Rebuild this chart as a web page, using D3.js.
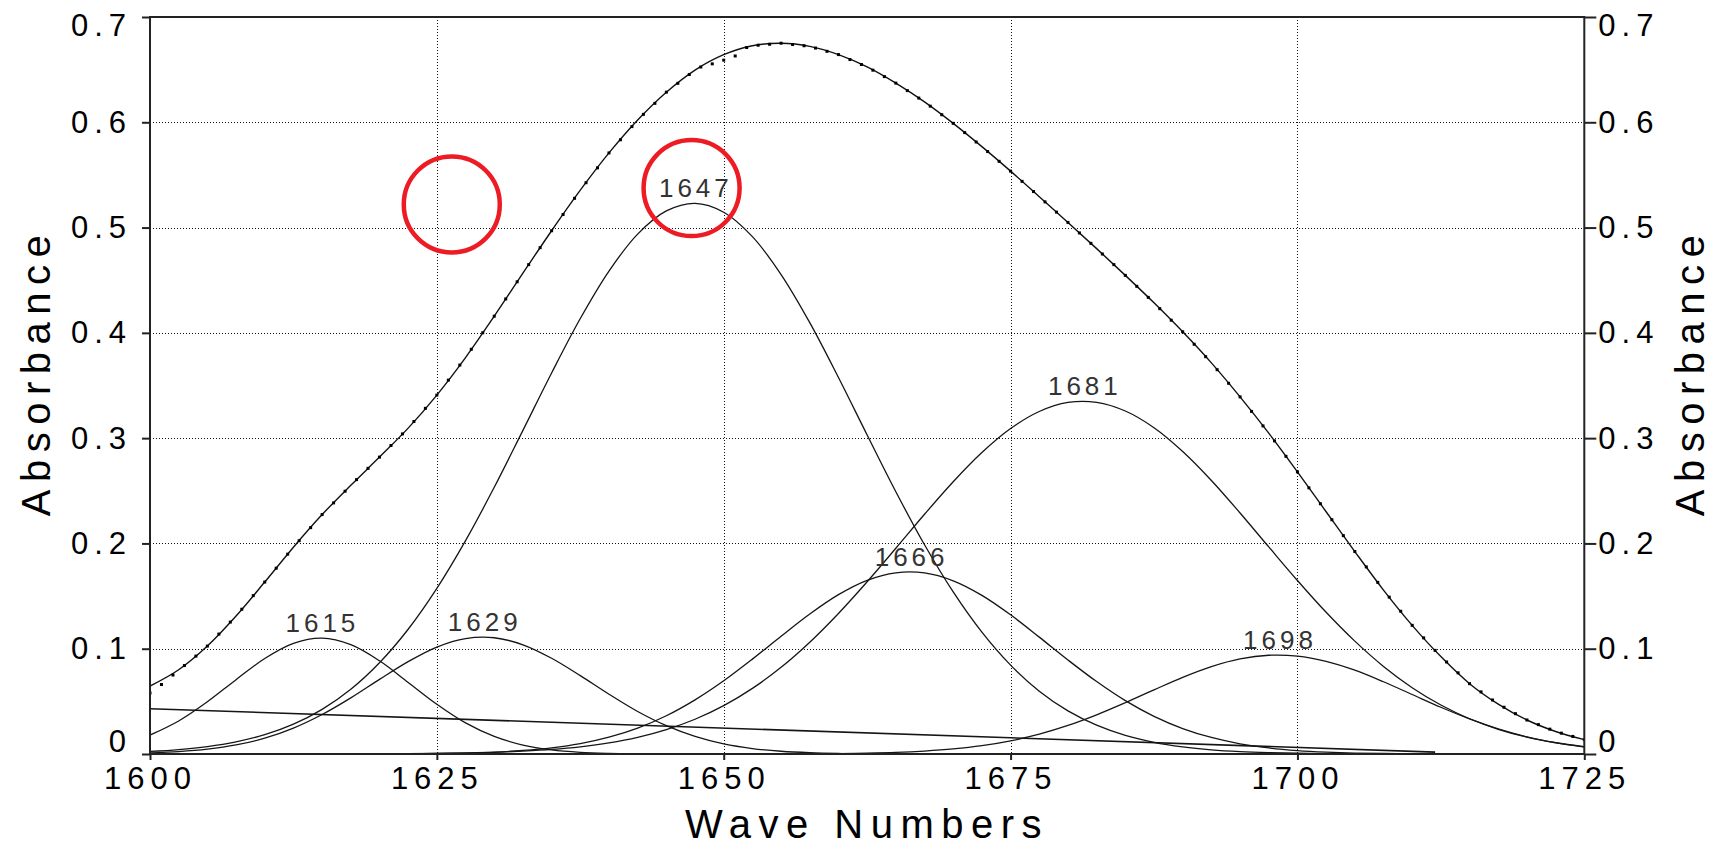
<!DOCTYPE html>
<html>
<head>
<meta charset="utf-8">
<script src="https://cdn.jsdelivr.net/npm/d3@7"></script>
<style>
  html, body { margin: 0; padding: 0; background: #ffffff; }
  svg { display: block; }
  text { font-family: "Liberation Sans", Arial, "DejaVu Sans", sans-serif; }
</style>
</head>
<body>
<svg id="chart" width="1715" height="845"></svg>
<script>
// ---------------- DATA ----------------
const xTicks = [1600, 1625, 1650, 1675, 1700, 1725];
const xTickLabels = ["1600", "1625", "1650", "1675", "1700", "1725"];
const yTicks = [0, 0.1, 0.2, 0.3, 0.4, 0.5, 0.6, 0.7];
const yTickLabels = ["0", "0.1", "0.2", "0.3", "0.4", "0.5", "0.6", "0.7"];

const xTitle = "Wave Numbers";
const yTitle = "Absorbance";

// sampling grid of the fitted curves (cm-1)
const gridWavenumbers = [1600,1602.5,1605,1607.5,1610,1612.5,1615,1617.5,1620,1622.5,
  1625,1627.5,1630,1632.5,1635,1637.5,1640,1642.5,1645,1647.5,
  1650,1652.5,1655,1657.5,1660,1662.5,1665,1667.5,1670,1672.5,
  1675,1677.5,1680,1682.5,1685,1687.5,1690,1692.5,1695,1697.5,
  1700,1702.5,1705,1707.5,1710,1712.5,1715,1717.5,1720,1722.5,1725];

// component bands
const band1615 = [0.0180,0.0314,0.0496,0.0706,0.0907,0.1051,0.1100,0.1038,0.0885,0.0680,
  0.0472,0.0295,0.0167,0.0085,0.0039,0.0016,0.0006,0.0002,0,0,
  0,0,0,0,0,0,0,0,0,0,
  0,0,0,0,0,0,0,0,0,0,
  0,0,0,0,0,0,0,0,0,0,0];
const band1629 = [0.0011,0.0023,0.0046,0.0086,0.0150,0.0246,0.0375,0.0533,0.0709,0.0878,
  0.1016,0.1096,0.1104,0.1037,0.0909,0.0744,0.0568,0.0404,0.0269,0.0167,
  0.0096,0.0052,0.0026,0.0012,0.0005,0.0002,0,0,0,0,
  0,0,0,0,0,0,0,0,0,0,
  0,0,0,0,0,0,0,0,0,0,0];
const band1647 = [0.0024,0.0042,0.0071,0.0116,0.0183,0.0283,0.0424,0.0615,0.0867,0.1185,
  0.1573,0.2026,0.2533,0.3074,0.3619,0.4136,0.4587,0.4938,0.5158,0.5230,
  0.5146,0.4914,0.4554,0.4097,0.3576,0.3030,0.2491,0.1987,0.1539,0.1157,
  0.0844,0.0597,0.0410,0.0274,0.0177,0.0111,0.0068,0.0040,0.0023,0.0013,
  0.0007,0.0004,0.0002,0,0,0,0,0,0,0,0];
const band1666 = [0,0,0,0,0,0,0,0,0.0001,0.0002,
  0.0005,0.0010,0.0018,0.0034,0.0059,0.0099,0.0160,0.0246,0.0363,0.0514,
  0.0695,0.0901,0.1119,0.1330,0.1514,0.1650,0.1721,0.1720,0.1645,0.1507,
  0.1322,0.1110,0.0893,0.0688,0.0507,0.0358,0.0242,0.0157,0.0097,0.0058,
  0.0033,0.0018,0.0009,0.0005,0.0002,0,0,0,0,0,0];
const band1681 = [0,0,0,0,0,0,0,0,0.0002,0.0003,
  0.0005,0.0009,0.0016,0.0027,0.0043,0.0068,0.0105,0.0158,0.0232,0.0330,
  0.0459,0.0623,0.0823,0.1062,0.1335,0.1636,0.1954,0.2277,0.2586,0.2863,
  0.3091,0.3253,0.3339,0.3340,0.3258,0.3099,0.2873,0.2598,0.2289,0.1967,
  0.1648,0.1346,0.1072,0.0832,0.0630,0.0465,0.0335,0.0235,0.0160,0.0107,0.0070];
const band1698 = [0,0,0,0,0,0,0,0,0,0,
  0,0,0,0,0,0,0,0,0,0,
  0,0,0.0001,0.0002,0.0004,0.0008,0.0015,0.0028,0.0048,0.0079,
  0.0125,0.0188,0.0271,0.0372,0.0487,0.0609,0.0728,0.0830,0.0903,0.0938,
  0.0930,0.0880,0.0796,0.0686,0.0565,0.0444,0.0333,0.0239,0.0163,0.0107,0.0066];

// total fitted envelope
const fitTotal = [0.0645,0.0800,0.1025,0.1310,0.1633,0.1964,0.2274,0.2552,0.2820,0.3095,
  0.3409,0.3765,0.4158,0.4567,0.4970,0.5355,0.5709,0.6022,0.6286,0.6496,
  0.6642,0.6727,0.6751,0.6721,0.6643,0.6526,0.6372,0.6194,0.5990,0.5769,
  0.5536,0.5293,0.5049,0.4800,0.4546,0.4285,0.4010,0.3715,0.3392,0.3047,
  0.2680,0.2301,0.1923,0.1557,0.1222,0.0925,0.0668,0.0474,0.0323,0.0214,0.0136];

// linear baseline
const baselineWavenumbers = [1600, 1712];
const baselineAbsorbance = [0.043, 0.0018];

// measured spectrum (dots)
const obsWavenumbers = [1600,1601,1602,1603,1604,1605,1606,1607,1608,1609,
  1610,1611,1612,1613,1614,1615,1616,1617,1618,1619,
  1620,1621,1622,1623,1624,1625,1626,1627,1628,1629,
  1630,1631,1632,1633,1634,1635,1636,1637,1638,1639,
  1640,1641,1642,1643,1644,1645,1646,1647,1648,1649,
  1650,1651,1652,1653,1654,1655,1656,1657,1658,1659,
  1660,1661,1662,1663,1664,1665,1666,1667,1668,1669,
  1670,1671,1672,1673,1674,1675,1676,1677,1678,1679,
  1680,1681,1682,1683,1684,1685,1686,1687,1688,1689,
  1690,1691,1692,1693,1694,1695,1696,1697,1698,1699,
  1700,1701,1702,1703,1704,1705,1706,1707,1708,1709,
  1710,1711,1712,1713,1714,1715,1716,1717,1718,1719,
  1720,1721,1722,1723,1724,1725];
const obsAbsorbance = [0.058,0.066,0.075,0.084,0.093,0.1025,0.1139,0.1253,0.1375,0.1504,
  0.1633,0.1765,0.1898,0.2026,0.2150,0.2274,0.2385,0.2496,0.2606,0.2713,
  0.2820,0.2930,0.3040,0.3158,0.3283,0.3409,0.3551,0.3694,0.3844,0.4001,
  0.4158,0.4322,0.4485,0.4648,0.4809,0.4970,0.5124,0.5278,0.5426,0.5567,
  0.5709,0.5834,0.5959,0.6075,0.6180,0.6286,0.6370,0.6454,0.6525,0.6555,
  0.6590,0.6630,0.6710,0.6732,0.6741,0.6751,0.6739,0.6727,0.6705,0.6674,
  0.6643,0.6596,0.6549,0.6495,0.6434,0.6372,0.6301,0.6230,0.6153,0.6072,
  0.5990,0.5902,0.5813,0.5722,0.5629,0.5536,0.5439,0.5342,0.5244,0.5147,
  0.5049,0.4949,0.4850,0.4749,0.4648,0.4546,0.4442,0.4337,0.4230,0.4120,
  0.4010,0.3892,0.3774,0.3650,0.3521,0.3392,0.3254,0.3116,0.2974,0.2827,
  0.2680,0.2528,0.2377,0.2225,0.2074,0.1923,0.1777,0.1630,0.1490,0.1356,
  0.1222,0.1103,0.0984,0.0874,0.0771,0.0668,0.0590,0.0513,0.0444,0.0383,
  0.0323,0.0279,0.0236,0.0198,0.0167,0.0136];

// peak labels
const peakLabels = ["1615", "1629", "1647", "1666", "1681", "1698"];
const peakCenters = [1614.85, 1629.0, 1647.4, 1666.2, 1681.3, 1698.3];
const peakHeights = [0.110, 0.111, 0.523, 0.173, 0.335, 0.094];

// red annotation circles (data coordinates)
const markWavenumbers = [1626.3, 1647.2];
const markAbsorbance = [0.522, 0.5375];

// ---------------- DRAWING ----------------
const W = 1715, H = 845;
const plotLeft = 150, plotRight = 1584.3, plotTop = 17, plotBottom = 754;

const x = d3.scaleLinear().domain([1600, 1725]).range([plotLeft, plotRight]);
const y = d3.scaleLinear().domain([0, 0.7]).range([plotBottom, plotTop]);

const svg = d3.select("#chart");
svg.append("rect").attr("width", W).attr("height", H).attr("fill", "#fff");

svg.append("defs").append("clipPath").attr("id", "plotClip")
  .append("rect").attr("x", plotLeft).attr("y", plotTop - 2)
  .attr("width", plotRight - plotLeft).attr("height", plotBottom - plotTop + 3);

// grid lines (dotted)
const grid = svg.append("g").attr("class", "grid");
grid.selectAll("line.h").data(yTicks.filter(v => v > 0 && v < 0.7)).join("line")
  .attr("class", "h")
  .attr("x1", x(1600)).attr("x2", x(1725))
  .attr("y1", d => Math.round(y(d)) + 0.5).attr("y2", d => Math.round(y(d)) + 0.5)
  .attr("stroke", "#111").attr("stroke-width", 1).attr("stroke-dasharray", "1,2");
grid.selectAll("line.v").data(xTicks.filter(v => v > 1600 && v < 1725)).join("line")
  .attr("class", "v")
  .attr("x1", d => Math.round(x(d)) + 0.5).attr("x2", d => Math.round(x(d)) + 0.5)
  .attr("y1", y(0.7)).attr("y2", y(0))
  .attr("stroke", "#111").attr("stroke-width", 1).attr("stroke-dasharray", "1,2");

// curves
const plot = svg.append("g").attr("clip-path", "url(#plotClip)");
const line = d3.line()
  .x(d => x(d[0])).y(d => y(d[1]))
  .curve(d3.curveCatmullRom.alpha(0.5));

const bands = [band1615, band1629, band1647, band1666, band1681, band1698];
bands.forEach(b => {
  const pts = gridWavenumbers.map((w, i) => [w, b[i]]).filter(p => p[1] !== undefined);
  plot.append("path").datum(pts).attr("d", line)
    .attr("fill", "none").attr("stroke", "#151515").attr("stroke-width", 1.3);
});

// baseline
plot.append("path")
  .datum(baselineWavenumbers.map((w, i) => [w, baselineAbsorbance[i]]))
  .attr("d", d3.line().x(d => x(d[0])).y(d => y(d[1])))
  .attr("fill", "none").attr("stroke", "#151515").attr("stroke-width", 1.6);

// total fit
plot.append("path")
  .datum(gridWavenumbers.map((w, i) => [w, fitTotal[i]]))
  .attr("d", line)
  .attr("fill", "none").attr("stroke", "#111").attr("stroke-width", 1.4);

// measured points
plot.selectAll("rect.obs").data(obsWavenumbers.map((w, i) => [w, obsAbsorbance[i]]))
  .join("rect").attr("class", "obs")
  .attr("x", d => x(d[0]) - 1.5).attr("y", d => y(d[1]) - 1.5)
  .attr("width", 3).attr("height", 3).attr("fill", "#000");

// frame
svg.append("rect")
  .attr("x", plotLeft).attr("y", plotTop)
  .attr("width", plotRight - plotLeft).attr("height", plotBottom - plotTop)
  .attr("fill", "none").attr("stroke", "#222").attr("stroke-width", 2);

// axes
const tickFont = 31, tickSpacing = 6;
function styleAxis(g) {
  g.select(".domain").remove();
  g.selectAll(".tick line").attr("stroke", "#222").attr("stroke-width", 2);
  g.selectAll(".tick text")
    .attr("fill", "#000")
    .style("font-size", tickFont + "px")
    .style("letter-spacing", tickSpacing + "px")
    .style("font-family", '"Liberation Sans", Arial, sans-serif');
}

const axLeft = svg.append("g").attr("transform", `translate(${plotLeft},0)`)
  .call(d3.axisLeft(y).tickValues(yTicks).tickSize(8).tickPadding(10)
    .tickFormat((d, i) => yTickLabels[i]));
styleAxis(axLeft);

const axRight = svg.append("g").attr("transform", `translate(${plotRight},0)`)
  .call(d3.axisRight(y).tickValues(yTicks).tickSize(12).tickPadding(2)
    .tickFormat((d, i) => yTickLabels[i]));
styleAxis(axRight);

[axLeft, axRight].forEach(g => {
  g.selectAll(".tick text")
    .attr("dy", d => d === 0.7 ? "18px" : (d === 0 ? "-2.5px" : "9.9px"));
});

const axBottom = svg.append("g").attr("transform", `translate(0,${plotBottom})`)
  .call(d3.axisBottom(x).tickValues(xTicks).tickSize(6).tickPadding(7)
    .tickFormat((d, i) => xTickLabels[i]));
styleAxis(axBottom);

// axis titles
const titleFont = 40, titleSpacing = 7.5;
svg.append("text")
  .attr("x", 867).attr("y", 838)
  .attr("text-anchor", "middle")
  .style("font-size", titleFont + "px").style("letter-spacing", titleSpacing + "px")
  .attr("fill", "#000").text(xTitle);

svg.append("text")
  .attr("transform", "translate(50,372) rotate(-90)")
  .attr("text-anchor", "middle")
  .style("font-size", titleFont + "px").style("letter-spacing", titleSpacing + "px")
  .attr("fill", "#000").text(yTitle);

svg.append("text")
  .attr("transform", "translate(1704,372) rotate(-90)")
  .attr("text-anchor", "middle")
  .style("font-size", titleFont + "px").style("letter-spacing", titleSpacing + "px")
  .attr("fill", "#000").text(yTitle);

// peak labels
svg.append("g").selectAll("text").data(peakLabels).join("text")
  .attr("x", (d, i) => x(peakCenters[i]) + 2)
  .attr("y", (d, i) => y(peakHeights[i]) - 6)
  .attr("text-anchor", "middle")
  .style("font-size", "26px").style("letter-spacing", "4px")
  .attr("fill", "#333").text(d => d);

// red annotation circles
svg.append("g").selectAll("circle").data(markWavenumbers).join("circle")
  .attr("cx", d => x(d))
  .attr("cy", (d, i) => y(markAbsorbance[i]))
  .attr("r", 48)
  .attr("fill", "none").attr("stroke", "#ed1c24").attr("stroke-width", 4.5);
</script>
</body>
</html>
